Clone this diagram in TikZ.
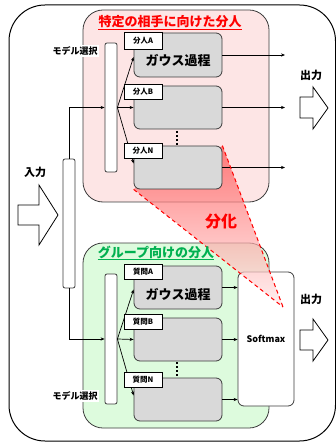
\documentclass[tikz,border=0pt]{standalone}
\usepackage{fontspec}
\setmainfont{Noto Sans CJK JP}
\usetikzlibrary{arrows.meta}
\definecolor{pinkbg}{RGB}{253,229,229}
\definecolor{greenbg}{RGB}{221,251,221}
\definecolor{boxgray}{RGB}{217,217,217}
\definecolor{edge}{RGB}{60,60,60}
\definecolor{titlegreen}{RGB}{0,176,80}
\tikzset{
  arr/.style={-{Stealth[length=4pt,width=3.2pt]}, line width=0.7pt},
  gbox/.style={draw=edge, fill=boxgray, rounded corners=6pt, line width=0.8pt, minimum width=88pt, inner sep=0pt},
  lbl/.style={draw=black, fill=white, line width=0.7pt, minimum width=38pt, inner sep=0pt, font=\bfseries\fontsize{7.5}{8}\selectfont},
  bar/.style={draw=edge, fill=white, rounded corners=2pt, line width=0.8pt, minimum width=12pt, inner sep=0pt},
  group/.style={draw=edge, line width=0.8pt, rounded corners=20pt},
  bigarrow/.style={draw=black, fill=white, line width=0.8pt},
  io/.style={font=\bfseries\fontsize{11}{12}\selectfont},
  sel/.style={fill=white, inner sep=1.5pt, font=\bfseries\fontsize{9}{10}\selectfont},
  gauss/.style={font=\bfseries\fontsize{13}{14}\selectfont},
  dots/.style={line width=1.8pt, dash pattern=on 1.8pt off 2.2pt, line cap=butt}
}
\begin{document}
\begin{tikzpicture}[x=1pt,y=-1pt]
\useasboundingbox (0,0) rectangle (336,443);
\fill[white] (0,0) rectangle (336,443);
\begin{scope}
\clip (0,0) rectangle (336,443);
\draw[line width=1pt, rounded corners=36pt] (9,5) rectangle (335.5,441);
\end{scope}

% group containers
\draw[group, fill=pinkbg] (83,10) rectangle (269,202);
\draw[group, fill=greenbg] (83,243) rectangle (269,428);

% softmax
\node[draw=edge, fill=white, rounded corners=6pt, line width=0.8pt, minimum width=56pt, minimum height=134pt, inner sep=0pt, font=\bfseries\fontsize{9}{10}\selectfont] (soft) at (266,339) {Softmax};

% gray boxes (upper)
\node[gbox, minimum height=44pt] (uA) at (178,55) {};
\node[gbox, minimum height=43pt] (uB) at (178,107.5) {};
\coordinate (apex) at (283,307);
% differentiation triangle (behind box N)
\shade[top color=red!70, bottom color=red!8, opacity=0.7] (133.5,189) -- (222.5,146) -- (apex) -- cycle;
\node[gbox, minimum height=43pt] (uN) at (178,167.5) {};

\node[gauss] at (178,61) {ガウス過程};

% gray boxes (lower)
\node[gbox, minimum height=43pt] (lA) at (178,287.5) {};
\node[gbox, minimum height=43pt] (lB) at (178,339.5) {};
\node[gbox, minimum height=43pt] (lN) at (178,399.5) {};
\node[gauss] at (178,295) {ガウス過程};

% ellipsis dots
\draw[dots] (177,131) -- (177,145);
\draw[dots] (177,362) -- (177,376);

% bars
\node[bar, minimum height=129pt] (ubar) at (111,107.5) {};
\node[bar, minimum height=130pt] (lbar) at (111,339) {};
\node[bar, minimum height=129pt] (inbar) at (69,223.5) {};

% connectors
\draw[arr] (inbar.north) |- (ubar.west);
\draw[arr] (inbar.south) |- (lbar.west);
\draw[arr] (ubar.east) -- ([yshift=-2pt]uA.west);
\draw[arr] (ubar.east) -- (uB.west);
\draw[arr] (ubar.east) -- ([yshift=4pt]uN.west);
\draw[arr] (lbar.east) -- ([yshift=-2pt]lA.west);
\draw[arr] (lbar.east) -- (lB.west);
\draw[arr] (lbar.east) -- ([yshift=4pt]lN.west);

\coordinate (oA) at (285,55);
\coordinate (oB) at (285,107.5);
\coordinate (oN) at (285,167.5);
\draw[arr] (uA.east) -- (oA);
\draw[arr] (uB.east) -- (oB);
\draw[arr] (uN.east) -- (oN);
\draw[arr] (lA.east) -- (lA.east -| soft.west);
\draw[arr] (lB.east) -- (lB.east -| soft.west);
\draw[arr] (lN.east) -- (lN.east -| soft.west);

% labels
\node[lbl, minimum height=17pt] (tA) at (143,40.5) {分人A};
\node[lbl, minimum height=15pt] (tB) at (143,91.5) {分人B};
\node[lbl, minimum height=15pt] (tN) at (143,150.5) {分人N};
\node[lbl, minimum height=15pt] (qA) at (143,271.5) {質問A};
\node[lbl, minimum height=15pt] (qB) at (143,322) {質問B};
\node[lbl, minimum height=15pt] (qN) at (143,380) {質問N};

% dashed lines of differentiation
\draw[red, line width=1pt, dash pattern=on 4pt off 3pt] (uN.south west) -- (apex);
\draw[red, line width=1pt, dash pattern=on 4pt off 3pt] (uN.north east) -- (apex);
\node[red, font=\bfseries\fontsize{16}{18}\selectfont] (bunka) at (221,222) {分化};

% titles
\node[red, inner sep=0pt, font=\bfseries\fontsize{13}{14}\selectfont] (t1) at (170,22) {特定の相手に向けた分人};
\draw[red, line width=0.8pt] ([yshift=-2.5pt]t1.base west) -- ([yshift=-2.5pt]t1.base east);
\node[titlegreen, inner sep=0pt, font=\bfseries\fontsize{13}{14}\selectfont] (t2) at (156,252) {グループ向けの分人};
\draw[titlegreen, line width=0.8pt] ([yshift=-2.5pt]t2.base west) -- ([yshift=-2.5pt]t2.base east);

% model selection labels
\node[sel] (s1) at (75,51) {モデル選択};
\node[sel] (s2) at (75,396) {モデル選択};

% input / outputs
\node[io] (inl) at (35,172) {入力};
\node[io] (out1) at (311,75) {出力};
\node[io] (out2) at (311,299) {出力};
\draw[bigarrow] (18,205) -- (39,205) -- (39,185) -- (58,215) -- (39,245) -- (39,225) -- (18,225) -- cycle;
\draw[bigarrow] (300,97) -- (313,97) -- (313,87) -- (328,108) -- (313,129) -- (313,118) -- (300,118) -- cycle;
\draw[bigarrow] (300,330) -- (313,330) -- (313,319) -- (328,340) -- (313,361) -- (313,350) -- (300,350) -- cycle;
\end{tikzpicture}
\end{document}
